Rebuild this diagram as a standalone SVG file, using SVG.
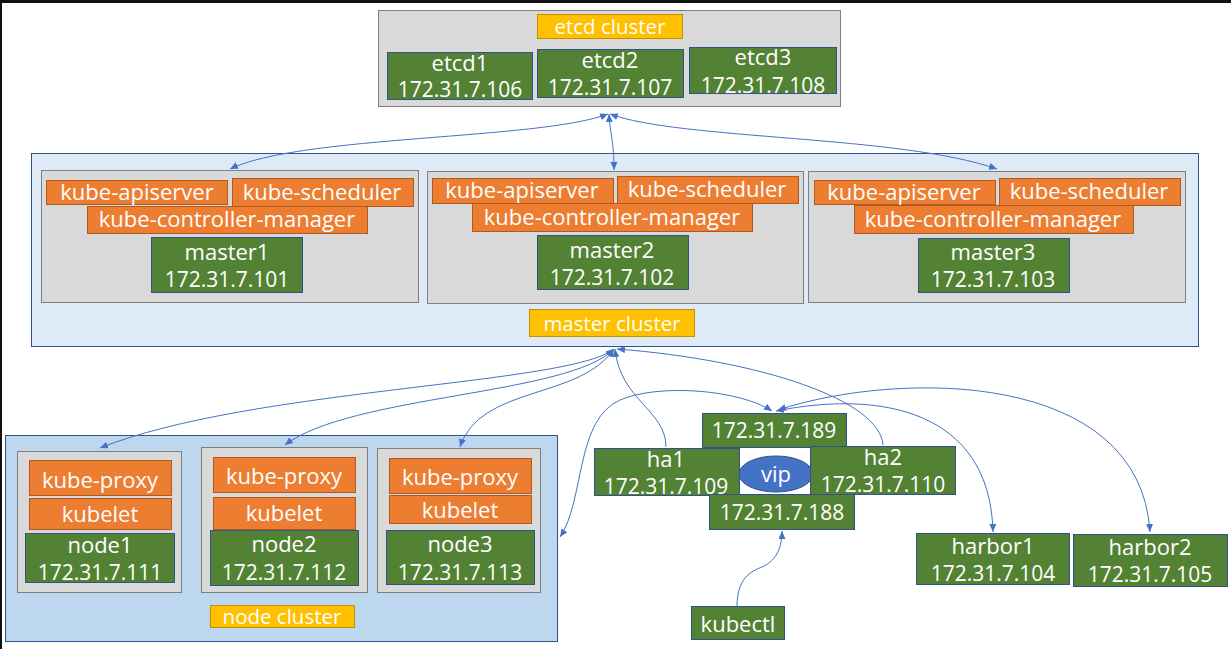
<svg xmlns="http://www.w3.org/2000/svg" width="1231" height="649" viewBox="0 0 1231 649">
<style>
.bg{fill:#FFFFFF}
.frame{fill:#111111}
.gray{fill:#D9D9D9;stroke:#7F7F7F;stroke-width:1}
.green{fill:#548235;stroke:#2F528F;stroke-width:1}
.orange{fill:#ED7D31;stroke:#AE5A21;stroke-width:1}
.yellow{fill:#FFC000;stroke:#BF9000;stroke-width:1}
.mcl{fill:#DEEBF7;stroke:#2F528F;stroke-width:1}
.ncl{fill:#BDD7EE;stroke:#2F528F;stroke-width:1}
.vip{fill:#4472C4;stroke:#2F528F;stroke-width:1}
text{font-family:"Open Sans","Liberation Sans",sans-serif;fill:#FFFFFF;text-anchor:middle}
.t{font-size:22px}
.ip{font-size:21px}
.cl{font-size:20.5px}
.conn path{fill:none;stroke:#4472C4;stroke-width:1}
</style>
<defs>
<marker id="arr" markerUnits="userSpaceOnUse" markerWidth="9" markerHeight="8" refX="8" refY="3.5" orient="auto-start-reverse">
<path d="M0,0 L8,3.5 L0,7 z" fill="#4472C4"/>
</marker>
</defs>
<rect class="bg" x="0" y="0" width="1231" height="649"/>
<rect class="frame" x="0" y="0" width="1231" height="3"/>
<rect class="frame" x="0" y="0" width="2" height="649"/>

<g id="etcd-cluster">
<rect class="gray" x="378.5" y="10.5" width="462" height="96"/>
<rect class="yellow" x="537.5" y="14.5" width="145" height="24"/>
<text class="cl" x="610" y="34">etcd cluster</text>
</g>
<g id="etcd1">
<rect class="green" x="387.5" y="52.5" width="145" height="47"/>
<text class="t" x="460" y="71">etcd1</text>
<text class="ip" x="460" y="97">172.31.7.106</text>
</g>
<g id="etcd2">
<rect class="green" x="537.5" y="49.5" width="146" height="48"/>
<text class="t" x="610" y="68">etcd2</text>
<text class="ip" x="610" y="95">172.31.7.107</text>
</g>
<g id="etcd3">
<rect class="green" x="689.5" y="47.5" width="147" height="46"/>
<text class="t" x="763" y="65">etcd3</text>
<text class="ip" x="763" y="93">172.31.7.108</text>
</g>

<g id="master-cluster">
<rect class="mcl" x="31.5" y="153.5" width="1167" height="193"/>
<rect class="yellow" x="529.5" y="309.5" width="165" height="27"/>
<text class="cl" x="612" y="331">master cluster</text>
</g>
<g id="master1">
<rect class="gray" x="41.5" y="170.5" width="377" height="132"/>
<rect class="orange" x="46.5" y="180.5" width="181" height="24"/>
<text class="t" x="137" y="200">kube-apiserver</text>
<rect class="orange" x="232.5" y="178.5" width="181" height="28"/>
<text class="t" x="322" y="200">kube-scheduler</text>
<rect class="orange" x="87.5" y="206.5" width="280" height="27"/>
<text class="t" x="227" y="227">kube-controller-manager</text>
<rect class="green" x="151.5" y="237.5" width="151" height="55"/>
<text class="t" x="227" y="260">master1</text>
<text class="ip" x="227" y="287">172.31.7.101</text>
</g>
<g id="master2">
<rect class="gray" x="427.5" y="171.5" width="376" height="132"/>
<rect class="orange" x="432.5" y="178.5" width="181" height="25"/>
<text class="t" x="522" y="198">kube-apiserver</text>
<rect class="orange" x="617.5" y="176.5" width="181" height="27"/>
<text class="t" x="707" y="197">kube-scheduler</text>
<rect class="orange" x="472.5" y="203.5" width="280" height="28"/>
<text class="t" x="612" y="225">kube-controller-manager</text>
<rect class="green" x="537.5" y="235.5" width="151" height="54"/>
<text class="t" x="612" y="258">master2</text>
<text class="ip" x="612" y="285">172.31.7.102</text>
</g>
<g id="master3">
<rect class="gray" x="808.5" y="171.5" width="377" height="131"/>
<rect class="orange" x="814.5" y="180.5" width="181" height="24"/>
<text class="t" x="904" y="200">kube-apiserver</text>
<rect class="orange" x="999.5" y="178.5" width="181" height="27"/>
<text class="t" x="1089" y="199">kube-scheduler</text>
<rect class="orange" x="854.5" y="205.5" width="279" height="28"/>
<text class="t" x="993" y="227">kube-controller-manager</text>
<rect class="green" x="918.5" y="238.5" width="151" height="54"/>
<text class="t" x="993" y="260">master3</text>
<text class="ip" x="993" y="287">172.31.7.103</text>
</g>

<g id="node-cluster">
<rect class="ncl" x="5.5" y="435.5" width="552" height="206"/>
<rect class="yellow" x="210.5" y="605.5" width="144" height="22"/>
<text class="cl" x="282" y="624">node cluster</text>
</g>
<g id="node1">
<rect class="gray" x="17.5" y="451.5" width="164" height="141"/>
<rect class="orange" x="29.5" y="460.5" width="142" height="35"/>
<text class="t" x="100" y="488">kube-proxy</text>
<rect class="orange" x="29.5" y="498.5" width="142" height="31"/>
<text class="t" x="100" y="522">kubelet</text>
<rect class="green" x="25.5" y="533.5" width="149" height="49"/>
<text class="t" x="100" y="553">node1</text>
<text class="ip" x="100" y="580">172.31.7.111</text>
</g>
<g id="node2">
<rect class="gray" x="201.5" y="447.5" width="166" height="145"/>
<rect class="orange" x="213.5" y="457.5" width="142" height="35"/>
<text class="t" x="284" y="484">kube-proxy</text>
<rect class="orange" x="213.5" y="497.5" width="142" height="32"/>
<text class="t" x="284" y="521">kubelet</text>
<rect class="green" x="210.5" y="530.5" width="148" height="55"/>
<text class="t" x="284" y="552">node2</text>
<text class="ip" x="284" y="580">172.31.7.112</text>
</g>
<g id="node3">
<rect class="gray" x="377.5" y="448.5" width="163" height="144"/>
<rect class="orange" x="389.5" y="458.5" width="142" height="35"/>
<text class="t" x="460" y="485">kube-proxy</text>
<rect class="orange" x="389.5" y="495.5" width="142" height="28"/>
<text class="t" x="460" y="518">kubelet</text>
<rect class="green" x="386.5" y="530.5" width="148" height="54"/>
<text class="t" x="460" y="552">node3</text>
<text class="ip" x="460" y="580">172.31.7.113</text>
</g>

<g id="vip-189">
<rect class="green" x="702.5" y="413.5" width="144" height="34"/>
<text class="ip" x="774" y="438">172.31.7.189</text>
</g>
<g id="ha1">
<rect class="green" x="594.5" y="448.5" width="145" height="47"/>
<text class="t" x="666" y="467">ha1</text>
<text class="ip" x="666" y="494">172.31.7.109</text>
</g>
<g id="vip">
<ellipse class="vip" cx="776" cy="474" rx="37" ry="18"/>
<text class="t" x="776" y="482">vip</text>
</g>
<g id="ha2">
<rect class="green" x="810.5" y="446.5" width="145" height="48"/>
<text class="t" x="883" y="465">ha2</text>
<text class="ip" x="883" y="492">172.31.7.110</text>
</g>
<g id="vip-188">
<rect class="green" x="709.5" y="494.5" width="145" height="35"/>
<text class="ip" x="782" y="520">172.31.7.188</text>
</g>
<g id="kubectl">
<rect class="green" x="691.5" y="606.5" width="93" height="33"/>
<text class="t" x="738" y="632">kubectl</text>
</g>
<g id="harbor1">
<rect class="green" x="916.5" y="533.5" width="153" height="51"/>
<text class="t" x="993" y="554">harbor1</text>
<text class="ip" x="993" y="581">172.31.7.104</text>
</g>
<g id="harbor2">
<rect class="green" x="1073.5" y="534.5" width="154" height="52"/>
<text class="t" x="1150" y="555">harbor2</text>
<text class="ip" x="1150" y="582">172.31.7.105</text>
</g>

<g id="connectors" class="conn">
<path d="M608,114 C540,140 300,135 230,169" marker-start="url(#arr)" marker-end="url(#arr)"/>
<path d="M609,114 C610,135 614,140 614,170" marker-start="url(#arr)" marker-end="url(#arr)"/>
<path d="M610,114 C680,140 900,135 997,169" marker-start="url(#arr)" marker-end="url(#arr)"/>
<path d="M614,349 C570,385 250,388 100,448" marker-start="url(#arr)" marker-end="url(#arr)"/>
<path d="M614,349 C570,395 350,395 285,445" marker-start="url(#arr)" marker-end="url(#arr)"/>
<path d="M614,349 C580,400 480,385 460,447" marker-start="url(#arr)" marker-end="url(#arr)"/>
<path d="M560,537 C585,500 575,420 620,400 C660,383 740,390 772,411" marker-start="url(#arr)" marker-end="url(#arr)"/>
<path d="M666,447 C666,410 620,400 615,349" marker-end="url(#arr)"/>
<path d="M883,445 C880,400 760,360 617,349" marker-end="url(#arr)"/>
<path d="M776,411 C880,390 990,410 993,532" marker-start="url(#arr)" marker-end="url(#arr)"/>
<path d="M778,410 C900,370 1140,370 1150,532" marker-start="url(#arr)" marker-end="url(#arr)"/>
<path d="M737,606 C737,575 755,570 762,567 C778,560 782,545 782,531" marker-end="url(#arr)"/>
</g>
</svg>
